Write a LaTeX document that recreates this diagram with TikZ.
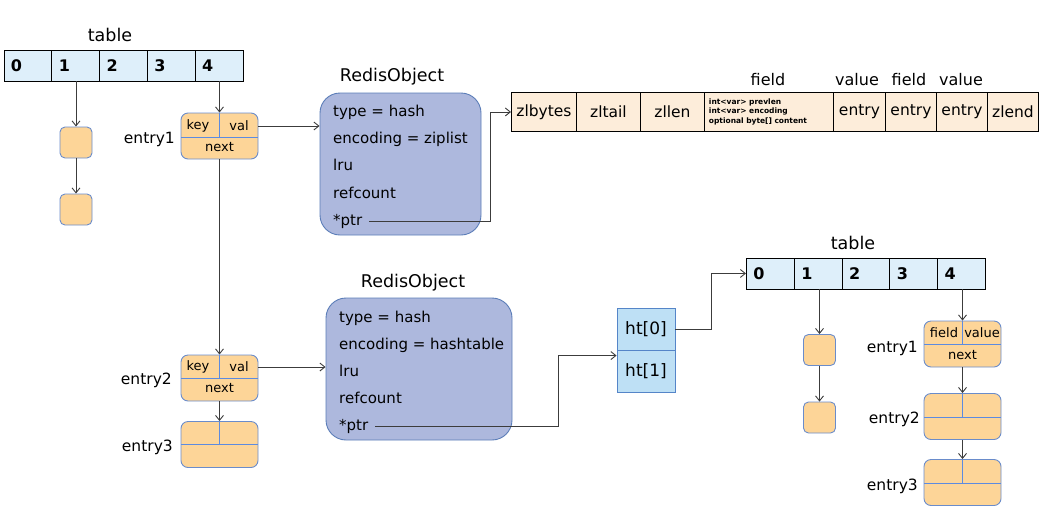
\documentclass[tikz,border=0pt]{standalone}
\usepackage{fontspec}
\setmainfont{DejaVu Sans}
\usetikzlibrary{arrows.meta,calc}

\definecolor{tblfill}{HTML}{DEEFFA}
\definecolor{entfill}{HTML}{FDD598}
\definecolor{entline}{HTML}{6A8CCB}
\definecolor{divline}{HTML}{5D8BE0}
\definecolor{objfill}{HTML}{ADB8DD}
\definecolor{objline}{HTML}{5B7DB8}
\definecolor{zlfill}{HTML}{FDEDDA}
\definecolor{htfill}{HTML}{BEE0F5}
\definecolor{htline}{HTML}{5585C8}
\definecolor{wire}{HTML}{3C3C3C}

\tikzset{
  tcell/.style={draw=black, line width=0.9pt, fill=tblfill, anchor=north west,
    minimum height=31pt, inner xsep=7pt, inner ysep=0pt, text width=33.8pt, align=left,
    font=\fontsize{16}{16}\selectfont\bfseries, text height=12pt, text depth=0pt},
  bucket/.style={draw=entline, fill=entfill, rounded corners=5pt, line width=0.9pt,
    minimum width=32pt, minimum height=31pt, inner sep=0pt},
  entbox/.style={draw=entline, fill=entfill, rounded corners=7pt, line width=0.9pt,
    minimum width=77pt, minimum height=46pt, inner sep=0pt},
  divider/.style={draw=divline, line width=1.3pt},
  etxt/.style={font=\fontsize{13}{13}\selectfont, inner sep=0pt},
  elabel/.style={font=\fontsize{15.5}{15.5}\selectfont, inner sep=0pt, anchor=east},
  robj/.style={draw=objline, fill=objfill, rounded corners=20pt, line width=0.9pt,
    inner sep=0pt},
  otxt/.style={font=\fontsize{15}{15}\selectfont, inner sep=0pt, anchor=base west},
  title/.style={font=\fontsize{17.5}{17.5}\selectfont, inner sep=0pt, anchor=base},
  zcell/.style={draw=black, line width=0.9pt, fill=zlfill, anchor=north west,
    minimum height=39pt, inner sep=0pt, font=\fontsize{15.5}{15.5}\selectfont},
  zlabel/.style={font=\fontsize{16}{16}\selectfont, inner sep=0pt, anchor=base},
  htcell/.style={draw=htline, fill=htfill, line width=0.9pt, minimum width=58pt,
    minimum height=42pt, inner sep=0pt, font=\fontsize{17}{17}\selectfont},
  link/.style={draw=wire, line width=0.9pt, -{Straight Barb[length=5pt,width=8pt]}},
}

\begin{document}
\begin{tikzpicture}[x=1pt,y=-1pt]
\useasboundingbox (0,0) rectangle (1047,523);

% ---------- upper hash table ----------
\node[title] (ttl1) at (110,41) {table};
\foreach \i/\x in {0/3.5,1/51.3,2/99.1,3/146.9,4/194.7}
  \node[tcell] (ta\i) at (\x,49.5) {\i};

% chain hanging off bucket 1
\node[bucket] (lb1) at (76,142.5) {};
\node[bucket] (lb2) at (76,209.5) {};
\draw[link] (ta1.south -| lb1.north) -- (lb1.north);
\draw[link] (lb1.south) -- (lb2.north);

% entry1 / entry2 / entry3 of the upper table
\node[entbox] (le1) at (219.5,136) {};
\draw[divider] (181,137.5) -- (258,137.5) (219.5,113) -- (219.5,137.5);
\node[etxt] (le1k) at (198,126) {key};
\node[etxt] (le1v) at (239,126) {val};
\node[etxt] (le1n) at (219.5,147) {next};
\node[elabel] (le1l) at (175,139) {entry1};

\node[entbox] (le2) at (219.5,378) {};
\draw[divider] (181,378.5) -- (258,378.5) (219.5,355) -- (219.5,378.5);
\node[etxt] (le2k) at (198,367) {key};
\node[etxt] (le2v) at (239,367) {val};
\node[etxt] (le2n) at (219.5,388) {next};
\node[elabel] (le2l) at (172,380) {entry2};

\node[entbox] (le3) at (219.5,444.5) {};
\draw[divider] (181,444.5) -- (258,444.5) (219.5,421.5) -- (219.5,444.5);
\node[elabel] (le3l) at (173,447) {entry3};

\draw[link] (ta4.south -| le1.north) -- (le1.north);
\draw[link] (le1.south) -- (le2.north);
\draw[link] (le2.south) -- (le3.north);

% ---------- RedisObject with ziplist encoding ----------
\node[title] (rt1) at (392,81) {RedisObject};
\node[robj, minimum width=161pt, minimum height=142pt] (ro1) at (400.5,164) {};
\node[otxt] (o1a) at (333,116) {type = hash};
\node[otxt] (o1b) at (333,143) {encoding = ziplist};
\node[otxt] (o1c) at (333,170) {lru};
\node[otxt] (o1d) at (333,198) {refcount};
\node[otxt] (o1e) at (333,225) {*ptr};

\draw[link] (le1.east |- le1v) -- (ro1.west |- le1v);

% ziplist layout
\node[zcell, minimum width=65pt] (z1) at (511,92) {zlbytes};
\node[zcell, minimum width=64pt] (z2) at (576,92) {zltail};
\node[zcell, minimum width=64pt] (z3) at (640,92) {zllen};
\node[zcell, minimum width=129pt, align=left, text width=120pt,
      font=\fontsize{7.5}{9.2}\selectfont\bfseries] (z4) at (704,92)
      {int<var> prevlen\\int<var> encoding\\optional byte[] content};
\node[zcell, minimum width=52pt] (z5) at (833,92) {entry};
\node[zcell, minimum width=51pt] (z6) at (885,92) {entry};
\node[zcell, minimum width=51pt] (z7) at (936,92) {entry};
\node[zcell, minimum width=51pt] (z8) at (987,92) {zlend};

\node[zlabel] (zf1) at (768,85) {field};
\node[zlabel] (zv1) at (857,85) {value};
\node[zlabel] (zf2) at (909,85) {field};
\node[zlabel] (zv2) at (961,85) {value};

\draw[link] ([xshift=7pt]o1e.east) -| ($(z1.west)+(-21,0)$) -- (z1.west);

% ---------- RedisObject with hashtable encoding ----------
\node[title] (rt2) at (413,287) {RedisObject};
\node[robj, minimum width=186pt, minimum height=142pt] (ro2) at (419,369) {};
\node[otxt] (o2a) at (339,322) {type = hash};
\node[otxt] (o2b) at (339,349) {encoding = hashtable};
\node[otxt] (o2c) at (339,376) {lru};
\node[otxt] (o2d) at (339,403) {refcount};
\node[otxt] (o2e) at (339,430) {*ptr};

\draw[link] (le2.east |- le2v) -- (ro2.west |- le2v);

% dict with two hash tables
\node[htcell] (ht0) at (646,329) {ht[0]};
\node[htcell] (ht1) at (646,371) {ht[1]};

\draw[link] ([xshift=7pt]o2e.east) -| ($(ht1.north west)+(-58,6)$) -- ($(ht1.north west)+(0,6)$);

% ---------- lower hash table ----------
\node[title] (ttl2) at (853,249) {table};
\foreach \i/\x in {0/746,1/793.8,2/841.6,3/889.4,4/937.2}
  \node[tcell] (tb\i) at (\x,257.5) {\i};

\draw[link] (ht0.east) -| ($(tb0.west)+(-35,0)$) -- (tb0.west);

\node[bucket] (rb1) at (819.5,350) {};
\node[bucket] (rb2) at (819.5,417.5) {};
\draw[link] (tb1.south -| rb1.north) -- (rb1.north);
\draw[link] (rb1.south) -- (rb2.north);

\node[entbox] (re1) at (962.5,344) {};
\draw[divider] (924,344.5) -- (1001,344.5) (962.5,321) -- (962.5,344.5);
\node[etxt] (re1f) at (944,333) {field};
\node[etxt] (re1v) at (982,333) {value};
\node[etxt] (re1n) at (962.5,355) {next};
\node[elabel] (re1l) at (918,348) {entry1};

\node[entbox] (re2) at (962.5,416.5) {};
\draw[divider] (924,417.5) -- (1001,417.5) (962.5,393.5) -- (962.5,417.5);
\node[elabel] (re2l) at (920,419) {entry2};

\node[entbox] (re3) at (962.5,482.5) {};
\draw[divider] (924,483.5) -- (1001,483.5) (962.5,459.5) -- (962.5,483.5);
\node[elabel] (re3l) at (918,486) {entry3};

\draw[link] (tb4.south -| re1.north) -- (re1.north);
\draw[link] (re1.south) -- (re2.north);
\draw[link] (re2.south) -- (re3.north);
\end{tikzpicture}
\end{document}
